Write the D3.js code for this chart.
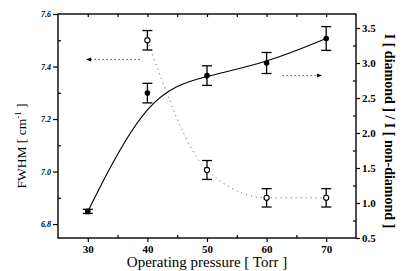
<!DOCTYPE html>
<html>
<head>
<meta charset="utf-8">
<script src="https://cdn.jsdelivr.net/npm/d3@7"></script>
<style>
  body { margin: 0; background: #fff; }
  text { font-family: "Liberation Serif", "DejaVu Serif", serif; fill: #000; }
</style>
</head>
<body>
<div id="chart"></div>
<script>
// pressure in Torr
const pressure = [30, 40, 50, 60, 70];
// I(diamond)/I(non-diamond), filled circles, right axis
const ratio = [0.88, 2.57, 2.82, 3.0, 3.35];
const ratioErr = [0.03, 0.14, 0.14, 0.15, 0.17];
// FWHM, open circles, left axis (no value at 30 Torr)
const fwhmPressure = [40, 50, 60, 70];
const fwhm = [7.5, 7.006, 6.9, 6.9];
const fwhmErr = [0.037, 0.036, 0.035, 0.035];

const xTicks = [30, 40, 50, 60, 70];
const leftTicks = [6.8, 7.0, 7.2, 7.4, 7.6];
const rightTicks = [0.5, 1.0, 1.5, 2.0, 2.5, 3.0, 3.5];

const width = 402, height = 271;
const m = { left: 58, right: 46, top: 14, bottom: 33 };

const svg = d3.select("#chart").append("svg")
    .attr("width", width).attr("height", height);

const x = d3.scaleLinear().domain([25, 75]).range([m.left, width - m.right]);
const yL = d3.scaleLinear().domain([6.747, 7.6]).range([height - m.bottom, m.top]);
const yR = d3.scaleLinear().domain([0.5, 3.7]).range([height - m.bottom, m.top]);

// frame
svg.append("rect")
    .attr("x", m.left).attr("y", m.top)
    .attr("width", width - m.left - m.right)
    .attr("height", height - m.top - m.bottom)
    .attr("fill", "none").attr("stroke", "#000").attr("stroke-width", 1.4);

function styleAxis(g, size) {
    g.select(".domain").remove();
    g.selectAll("line").attr("stroke", "#000").attr("stroke-width", 1.2);
    g.selectAll("text").attr("font-size", size).attr("font-weight", "bold");
}

// minor ticks (inward)
const minor = (axis, vals) => axis.tickValues(vals).tickSize(-3).tickFormat("");

svg.append("g").attr("transform", "translate(0," + (height - m.bottom) + ")")
    .call(minor(d3.axisBottom(x), [35, 45, 55, 65])).call(g => styleAxis(g, 0));
svg.append("g").attr("transform", "translate(0," + m.top + ")")
    .call(minor(d3.axisTop(x), [30, 35, 40, 45, 50, 55, 60, 65, 70])).call(g => styleAxis(g, 0));
svg.append("g").attr("transform", "translate(" + m.left + ",0)")
    .call(minor(d3.axisLeft(yL), [6.9, 7.1, 7.3, 7.5])).call(g => styleAxis(g, 0));
svg.append("g").attr("transform", "translate(" + (width - m.right) + ",0)")
    .call(minor(d3.axisRight(yR), [0.75, 1.25, 1.75, 2.25, 2.75, 3.25])).call(g => styleAxis(g, 0));

// major ticks
svg.append("g").attr("transform", "translate(0," + (height - m.bottom) + ")")
    .call(d3.axisBottom(x).tickValues(xTicks).tickSize(4).tickPadding(3))
    .call(g => styleAxis(g, 11));
svg.append("g").attr("transform", "translate(" + m.left + ",0)")
    .call(d3.axisLeft(yL).tickValues(leftTicks).tickSize(5).tickPadding(2).tickFormat(d3.format(".1f")))
    .call(g => styleAxis(g, 8))
    .call(g => g.selectAll("text").attr("font-style", "italic"));
svg.append("g").attr("transform", "translate(" + (width - m.right) + ",0)")
    .call(d3.axisRight(yR).tickValues(rightTicks).tickSize(4).tickPadding(2).tickFormat(d3.format(".1f")))
    .call(g => styleAxis(g, 11));

// fitted solid curve through ratio points
const ratioPts = pressure.map((p, i) => [p, ratio[i]]);
svg.append("path")
    .datum(ratioPts)
    .attr("fill", "none").attr("stroke", "#000").attr("stroke-width", 1.1)
    .attr("d", d3.line().x(d => x(d[0])).y(d => yR(d[1])).curve(d3.curveBasis));

// dotted curve through fwhm points
const fwhmPts = fwhmPressure.map((p, i) => [p, fwhm[i]]);
svg.append("path")
    .datum(fwhmPts)
    .attr("fill", "none").attr("stroke", "#555").attr("stroke-width", 1)
    .attr("stroke-dasharray", "1,4")
    .attr("d", d3.line().x(d => x(d[0])).y(d => yL(d[1])).curve(d3.curveMonotoneX));

function errorBars(pts, errs, y) {
    const g = svg.append("g").attr("stroke", "#000").attr("stroke-width", 1.3);
    pts.forEach((d, i) => {
        const cx = x(d[0]), top = y(d[1] + errs[i]), bot = y(d[1] - errs[i]);
        g.append("line").attr("x1", cx).attr("x2", cx).attr("y1", top).attr("y2", bot);
        g.append("line").attr("x1", cx - 5).attr("x2", cx + 5).attr("y1", top).attr("y2", top);
        g.append("line").attr("x1", cx - 5).attr("x2", cx + 5).attr("y1", bot).attr("y2", bot);
    });
}
errorBars(ratioPts, ratioErr, yR);
errorBars(fwhmPts, fwhmErr, yL);

svg.append("g").selectAll("circle").data(ratioPts).join("circle")
    .attr("cx", d => x(d[0])).attr("cy", d => yR(d[1])).attr("r", 2.8)
    .attr("fill", "#000");
svg.append("g").selectAll("circle").data(fwhmPts).join("circle")
    .attr("cx", d => x(d[0])).attr("cy", d => yL(d[1])).attr("r", 2.6)
    .attr("fill", "#fff").attr("stroke", "#000").attr("stroke-width", 1.1);

// arrows pointing to the axis of each series
svg.append("defs").append("marker")
    .attr("id", "head").attr("viewBox", "0 0 10 10")
    .attr("refX", 9).attr("refY", 5)
    .attr("markerWidth", 7).attr("markerHeight", 5).attr("orient", "auto")
    .append("path").attr("d", "M0,1L10,5L0,9Z").attr("fill", "#000");

const arrows = [
    { from: 38.7, to: 29.8, y: yL(7.427) },
    { from: 62.7, to: 69.2, y: yR(2.82) }
];
svg.append("g").selectAll("line").data(arrows).join("line")
    .attr("x1", d => x(d.from)).attr("x2", d => x(d.to))
    .attr("y1", d => d.y).attr("y2", d => d.y)
    .attr("stroke", "#000").attr("stroke-width", 1)
    .attr("stroke-dasharray", "1,3")
    .attr("marker-end", "url(#head)");

// axis titles
svg.append("text")
    .attr("x", (m.left + width - m.right) / 2).attr("y", 267)
    .attr("text-anchor", "middle").attr("font-size", 15)
    .text("Operating pressure [ Torr ]");

const lt = svg.append("text")
    .attr("transform", "translate(26," + ((m.top + height - m.bottom) / 2 + 20) + ") rotate(-90)")
    .attr("text-anchor", "middle").attr("font-size", 13.5);
lt.append("tspan").text("FWHM [ cm");
lt.append("tspan").attr("font-size", 9).attr("dy", -5).text("-1");
lt.append("tspan").attr("dy", 5).text(" ]");

svg.append("text")
    .attr("transform", "translate(385," + (m.top + 117) + ") rotate(90)")
    .attr("text-anchor", "middle").attr("font-size", 14).attr("font-weight", "bold")
    .text("I [ diamond ] / I [ non-diamond ]");
</script>
</body>
</html>
